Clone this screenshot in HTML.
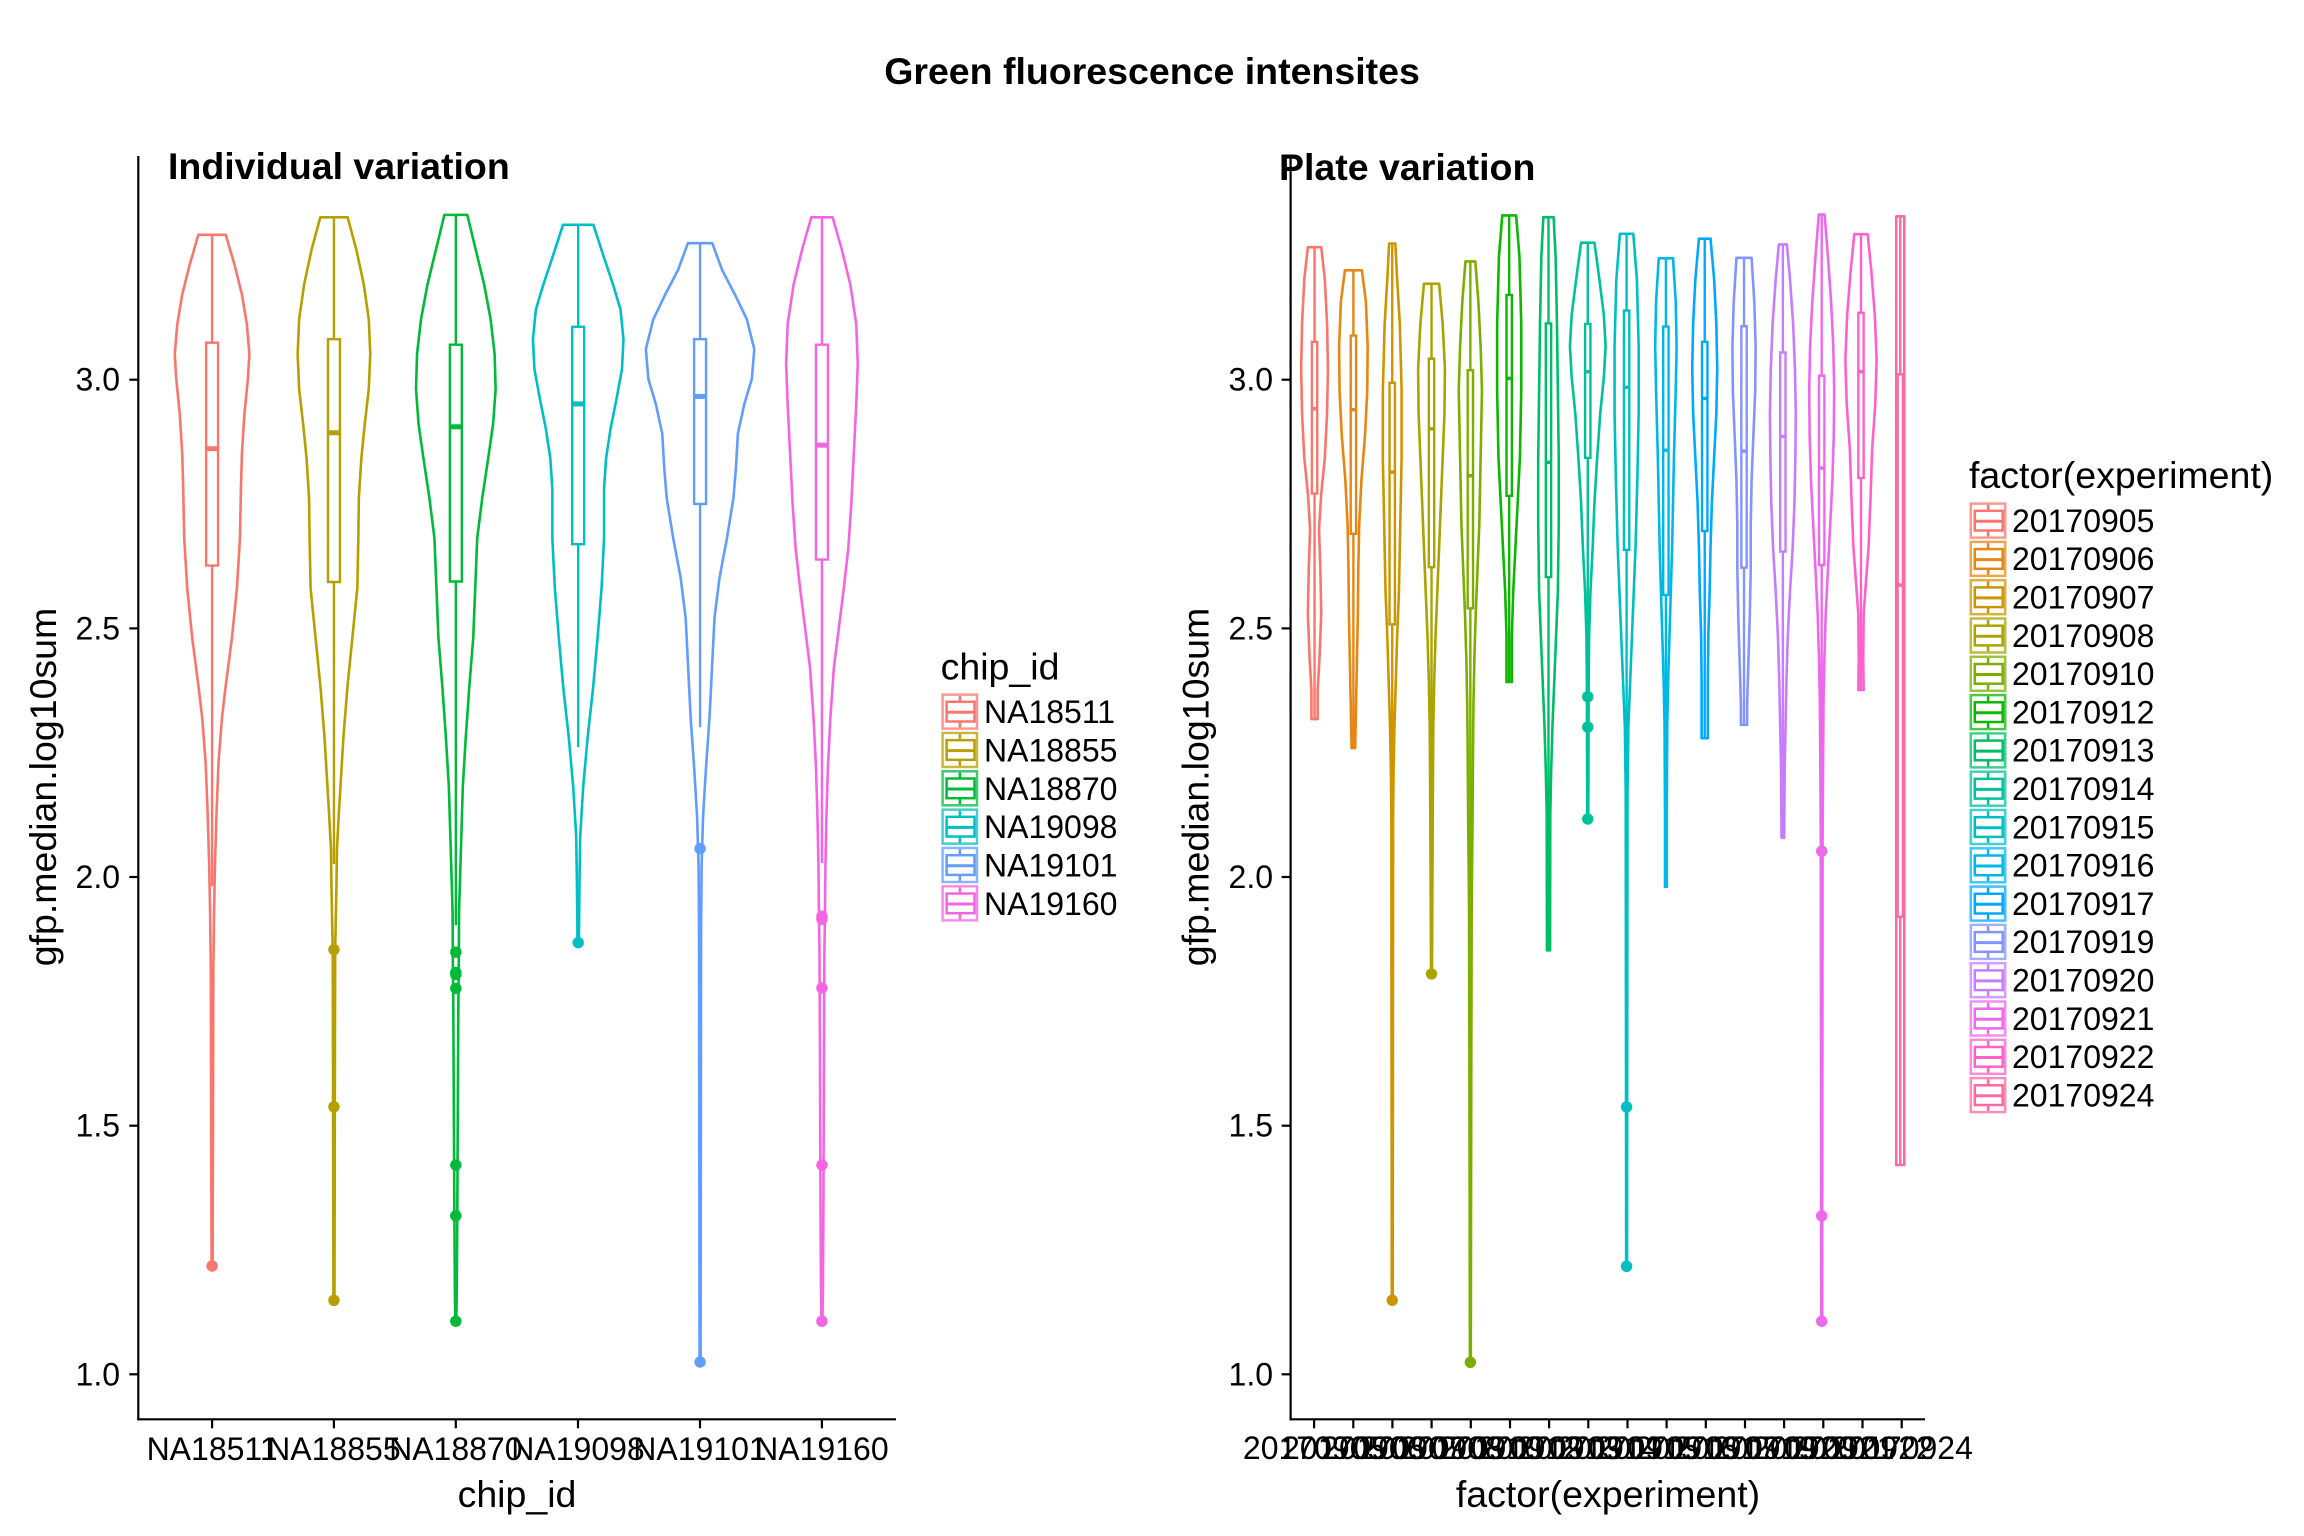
<!DOCTYPE html>
<html><head><meta charset="utf-8"><style>
html,body{margin:0;padding:0;background:#fff;}
svg{display:block;}
text{font-family:"Liberation Sans",Arial,Helvetica,sans-serif;fill:#000;}
.t{font-size:32px;}
.h{font-size:37.5px;}
.b{font-size:37.5px;font-weight:bold;}
</style></head><body>
<svg width="2304" height="1536" viewBox="0 0 2304 1536" xmlns="http://www.w3.org/2000/svg" xmlns:xlink="http://www.w3.org/1999/xlink">
<rect width="2304" height="1536" fill="#fff"/>
<defs>
<g id="key" fill="none" stroke="currentColor" stroke-width="2.5">
<rect x="1.3" y="1.3" width="34.4" height="34" fill="#fff" stroke-opacity="0.75"/>
<rect x="5.3" y="8.5" width="27.9" height="19.7" fill="#fff"/>
<line x1="5.3" y1="19" x2="33.2" y2="19" stroke-width="3"/>
<line x1="18.6" y1="2.5" x2="18.6" y2="8.5"/>
<line x1="18.6" y1="28.2" x2="18.6" y2="34.2"/>
</g>
</defs>

<text class="b" x="1152" y="84" text-anchor="middle">Green fluorescence intensites</text>

<!-- LEFT PANEL -->
<text class="b" x="168" y="179">Individual variation</text>
<g stroke="#000" stroke-width="2.2" fill="none">
<line x1="138.3" y1="156" x2="138.3" y2="1420.4"/>
<line x1="137.2" y1="1419.3" x2="896" y2="1419.3"/>
<line x1="129.3" y1="379.7" x2="138.3" y2="379.7"/>
<line x1="129.3" y1="628.4" x2="138.3" y2="628.4"/>
<line x1="129.3" y1="877" x2="138.3" y2="877"/>
<line x1="129.3" y1="1125.7" x2="138.3" y2="1125.7"/>
<line x1="129.3" y1="1374.3" x2="138.3" y2="1374.3"/>
<line x1="212.1" y1="1419.3" x2="212.1" y2="1428.3"/>
<line x1="333.9" y1="1419.3" x2="333.9" y2="1428.3"/>
<line x1="455.8" y1="1419.3" x2="455.8" y2="1428.3"/>
<line x1="578.0" y1="1419.3" x2="578.0" y2="1428.3"/>
<line x1="700.0" y1="1419.3" x2="700.0" y2="1428.3"/>
<line x1="821.9" y1="1419.3" x2="821.9" y2="1428.3"/>
</g>
<g text-anchor="end">
<text class="t" x="120" y="390.7">3.0</text>
<text class="t" x="120" y="639.4">2.5</text>
<text class="t" x="120" y="888">2.0</text>
<text class="t" x="120" y="1136.7">1.5</text>
<text class="t" x="120" y="1385.3">1.0</text>
</g>
<g text-anchor="middle">
<text class="t" x="212.1" y="1460">NA18511</text>
<text class="t" x="333.9" y="1460">NA18855</text>
<text class="t" x="455.8" y="1460">NA18870</text>
<text class="t" x="578.0" y="1460">NA19098</text>
<text class="t" x="700.0" y="1460">NA19101</text>
<text class="t" x="821.9" y="1460">NA19160</text>
</g>
<text class="h" x="517" y="1507" text-anchor="middle">chip_id</text>
<text class="h" transform="translate(56,787) rotate(-90)" text-anchor="middle">gfp.median.log10sum</text>

<g transform="translate(130,190) scale(0.49745)">
<g transform="translate(165,0)" stroke="#F8766D">
<path id="L1" fill="none" stroke-width="2.6" vector-effect="non-scaling-stroke" stroke-linejoin="round" d="M0,90 L27.5,90 L45,150 L60,210 L70,270 L75,330 L72,380 L65,450 L60,530 L58,600 L56,700 L50,800 L40,900 L27,1000 L20,1060 L13,1150 L9,1250 L6,1350 L4,1450 L2.5,1568 L2,1800 L1.5,2000 L1,2163 L0,2163"/>
<use href="#L1" xlink:href="#L1" transform="scale(-1,1)"/>
</g>
<g transform="translate(410,0)" stroke="#B79F00">
<path id="L2" fill="none" stroke-width="2.6" vector-effect="non-scaling-stroke" stroke-linejoin="round" d="M0,55 L27.5,55 L45,120 L60,190 L70,260 L73,330 L70,400 L62,470 L55,540 L50,620 L49,700 L47,800 L37,900 L27,1000 L19,1100 L13,1200 L10,1250 L6,1325 L5,1400 L2.5,1525 L2,1700 L1.5,2000 L1,2232 L0,2232"/>
<use href="#L2" xlink:href="#L2" transform="scale(-1,1)"/>
</g>
<g transform="translate(655,0)" stroke="#00BA38">
<path id="L3" fill="none" stroke-width="2.6" vector-effect="non-scaling-stroke" stroke-linejoin="round" d="M0,50 L23,50 L40,120 L57,190 L70,260 L78,330 L80,400 L75,470 L65,540 L53,620 L43,700 L39,800 L35,900 L27,1000 L20,1100 L14,1200 L11,1300 L8,1400 L6.5,1450 L6,1550 L5,1650 L4,1850 L3,2050 L2,2200 L1,2274 L0,2274"/>
<use href="#L3" xlink:href="#L3" transform="scale(-1,1)"/>
</g>
<g transform="translate(901,0)" stroke="#00BFC4">
<path id="L4" fill="none" stroke-width="2.6" vector-effect="non-scaling-stroke" stroke-linejoin="round" d="M0,70 L30.5,70 L50,130 L70,190 L85,240 L91,300 L88,360 L77,420 L65,480 L56,540 L52,600 L52,700 L47,800 L39,900 L30,1000 L19,1100 L10,1200 L4,1300 L2.5,1400 L1.5,1500 L0,1513"/>
<use href="#L4" xlink:href="#L4" transform="scale(-1,1)"/>
</g>
<g transform="translate(1146,0)" stroke="#619CFF">
<path id="L5" fill="none" stroke-width="2.6" vector-effect="non-scaling-stroke" stroke-linejoin="round" d="M0,107 L24.5,107 L44,160 L70,210 L94,260 L109,320 L104,380 L89,430 L76,490 L72,560 L67,620 L54,700 L39,780 L29,860 L24,960 L19,1060 L12,1160 L6,1260 L3,1360 L2,1500 L1.5,2000 L1,2356 L0,2356"/>
<use href="#L5" xlink:href="#L5" transform="scale(-1,1)"/>
</g>
<g transform="translate(1391,0)" stroke="#F564E3">
<path id="L6" fill="none" stroke-width="2.6" vector-effect="non-scaling-stroke" stroke-linejoin="round" d="M0,55 L21.5,55 L40,120 L57,190 L69,270 L72,350 L69,430 L64,530 L59,630 L53,720 L44,800 L34,880 L24,960 L17,1060 L12,1160 L9,1260 L7,1360 L6,1460 L5,1525 L4,1725 L3,2025 L2,2200 L1,2274 L0,2274"/>
<use href="#L6" xlink:href="#L6" transform="scale(-1,1)"/>
</g>

<g stroke-width="2.4" fill="#fff">
<g transform="translate(165,0)" stroke="#F8766D">
<line x1="0" y1="90" x2="0" y2="307" vector-effect="non-scaling-stroke"/>
<line x1="0" y1="755" x2="0" y2="1400" vector-effect="non-scaling-stroke"/>
<rect x="-12" y="307" width="24" height="448" vector-effect="non-scaling-stroke"/>
<line x1="-12" y1="520" x2="12" y2="520" stroke-width="5" vector-effect="non-scaling-stroke"/>
<circle cx="0" cy="2163" r="11.5" fill="#F8766D" stroke="none"/>
</g>
<g transform="translate(410,0)" stroke="#B79F00">
<line x1="0" y1="55" x2="0" y2="300" vector-effect="non-scaling-stroke"/>
<line x1="0" y1="788" x2="0" y2="1355" vector-effect="non-scaling-stroke"/>
<rect x="-12" y="300" width="24" height="488" vector-effect="non-scaling-stroke"/>
<line x1="-12" y1="488" x2="12" y2="488" stroke-width="5" vector-effect="non-scaling-stroke"/>
<circle cx="0" cy="1527" r="11.5" fill="#B79F00" stroke="none"/>
<circle cx="0" cy="1843" r="11.5" fill="#B79F00" stroke="none"/>
<circle cx="0" cy="2232" r="11.5" fill="#B79F00" stroke="none"/>
</g>
<g transform="translate(655,0)" stroke="#00BA38">
<line x1="0" y1="50" x2="0" y2="311" vector-effect="non-scaling-stroke"/>
<line x1="0" y1="787" x2="0" y2="1478" vector-effect="non-scaling-stroke"/>
<rect x="-12" y="311" width="24" height="476" vector-effect="non-scaling-stroke"/>
<line x1="-12" y1="476" x2="12" y2="476" stroke-width="5" vector-effect="non-scaling-stroke"/>
<circle cx="0" cy="1532" r="11.5" fill="#00BA38" stroke="none"/>
<circle cx="0" cy="1573" r="11.5" fill="#00BA38" stroke="none"/>
<circle cx="0" cy="1577" r="11.5" fill="#00BA38" stroke="none"/>
<circle cx="0" cy="1605" r="11.5" fill="#00BA38" stroke="none"/>
<circle cx="0" cy="1960" r="11.5" fill="#00BA38" stroke="none"/>
<circle cx="0" cy="2062" r="11.5" fill="#00BA38" stroke="none"/>
<circle cx="0" cy="2274" r="11.5" fill="#00BA38" stroke="none"/>
</g>
<g transform="translate(901,0)" stroke="#00BFC4">
<line x1="0" y1="70" x2="0" y2="275" vector-effect="non-scaling-stroke"/>
<line x1="0" y1="712" x2="0" y2="1120" vector-effect="non-scaling-stroke"/>
<rect x="-12" y="275" width="24" height="437" vector-effect="non-scaling-stroke"/>
<line x1="-12" y1="430" x2="12" y2="430" stroke-width="5" vector-effect="non-scaling-stroke"/>
<circle cx="0" cy="1513" r="11.5" fill="#00BFC4" stroke="none"/>
</g>
<g transform="translate(1146,0)" stroke="#619CFF">
<line x1="0" y1="107" x2="0" y2="300" vector-effect="non-scaling-stroke"/>
<line x1="0" y1="631" x2="0" y2="1080" vector-effect="non-scaling-stroke"/>
<rect x="-12" y="300" width="24" height="331" vector-effect="non-scaling-stroke"/>
<line x1="-12" y1="415" x2="12" y2="415" stroke-width="5" vector-effect="non-scaling-stroke"/>
<circle cx="0" cy="1324" r="11.5" fill="#619CFF" stroke="none"/>
<circle cx="0" cy="2356" r="11.5" fill="#619CFF" stroke="none"/>
</g>
<g transform="translate(1391,0)" stroke="#F564E3">
<line x1="0" y1="55" x2="0" y2="311" vector-effect="non-scaling-stroke"/>
<line x1="0" y1="743" x2="0" y2="1353" vector-effect="non-scaling-stroke"/>
<rect x="-12" y="311" width="24" height="432" vector-effect="non-scaling-stroke"/>
<line x1="-12" y1="513" x2="12" y2="513" stroke-width="5" vector-effect="non-scaling-stroke"/>
<circle cx="0" cy="1460" r="11.5" fill="#F564E3" stroke="none"/>
<circle cx="0" cy="1466" r="11.5" fill="#F564E3" stroke="none"/>
<circle cx="0" cy="1604" r="11.5" fill="#F564E3" stroke="none"/>
<circle cx="0" cy="1960" r="11.5" fill="#F564E3" stroke="none"/>
<circle cx="0" cy="2274" r="11.5" fill="#F564E3" stroke="none"/>
</g>
</g>
</g>

<!-- left legend -->
<text class="h" x="940.6" y="679.3">chip_id</text>
<use href="#key" xlink:href="#key" x="941.3" y="693.3" style="color:#F8766D"/>
<use href="#key" xlink:href="#key" x="941.3" y="731.65" style="color:#B79F00"/>
<use href="#key" xlink:href="#key" x="941.3" y="770" style="color:#00BA38"/>
<use href="#key" xlink:href="#key" x="941.3" y="808.35" style="color:#00BFC4"/>
<use href="#key" xlink:href="#key" x="941.3" y="846.7" style="color:#619CFF"/>
<use href="#key" xlink:href="#key" x="941.3" y="885.05" style="color:#F564E3"/>
<text class="t" x="984" y="723.1">NA18511</text>
<text class="t" x="984" y="761.5">NA18855</text>
<text class="t" x="984" y="799.8">NA18870</text>
<text class="t" x="984" y="838.2">NA19098</text>
<text class="t" x="984" y="876.5">NA19101</text>
<text class="t" x="984" y="914.9">NA19160</text>

<!-- RIGHT PANEL -->
<text class="b" x="1279" y="180">Plate variation</text>
<g stroke="#000" stroke-width="2.2" fill="none">
<line x1="1290.6" y1="156" x2="1290.6" y2="1420.4"/>
<line x1="1289.5" y1="1419.3" x2="1925" y2="1419.3"/>
<line x1="1281.6" y1="379.7" x2="1290.6" y2="379.7"/>
<line x1="1281.6" y1="628.4" x2="1290.6" y2="628.4"/>
<line x1="1281.6" y1="877" x2="1290.6" y2="877"/>
<line x1="1281.6" y1="1125.7" x2="1290.6" y2="1125.7"/>
<line x1="1281.6" y1="1374.3" x2="1290.6" y2="1374.3"/>
<line x1="1314.1" y1="1419.3" x2="1314.1" y2="1428.3"/>
<line x1="1353.3" y1="1419.3" x2="1353.3" y2="1428.3"/>
<line x1="1392.4" y1="1419.3" x2="1392.4" y2="1428.3"/>
<line x1="1431.6" y1="1419.3" x2="1431.6" y2="1428.3"/>
<line x1="1470.8" y1="1419.3" x2="1470.8" y2="1428.3"/>
<line x1="1510.0" y1="1419.3" x2="1510.0" y2="1428.3"/>
<line x1="1549.1" y1="1419.3" x2="1549.1" y2="1428.3"/>
<line x1="1588.3" y1="1419.3" x2="1588.3" y2="1428.3"/>
<line x1="1627.5" y1="1419.3" x2="1627.5" y2="1428.3"/>
<line x1="1666.6" y1="1419.3" x2="1666.6" y2="1428.3"/>
<line x1="1705.8" y1="1419.3" x2="1705.8" y2="1428.3"/>
<line x1="1745.0" y1="1419.3" x2="1745.0" y2="1428.3"/>
<line x1="1784.1" y1="1419.3" x2="1784.1" y2="1428.3"/>
<line x1="1823.3" y1="1419.3" x2="1823.3" y2="1428.3"/>
<line x1="1862.5" y1="1419.3" x2="1862.5" y2="1428.3"/>
<line x1="1901.7" y1="1419.3" x2="1901.7" y2="1428.3"/>
</g>
<g text-anchor="end">
<text class="t" x="1273" y="390.7">3.0</text>
<text class="t" x="1273" y="639.4">2.5</text>
<text class="t" x="1273" y="888">2.0</text>
<text class="t" x="1273" y="1136.7">1.5</text>
<text class="t" x="1273" y="1385.3">1.0</text>
</g>
<g text-anchor="middle">
<text class="t" x="1314.1" y="1459">20170905</text>
<text class="t" x="1353.3" y="1459">20170906</text>
<text class="t" x="1392.4" y="1459">20170907</text>
<text class="t" x="1431.6" y="1459">20170908</text>
<text class="t" x="1470.8" y="1459">20170910</text>
<text class="t" x="1510.0" y="1459">20170912</text>
<text class="t" x="1549.1" y="1459">20170913</text>
<text class="t" x="1588.3" y="1459">20170914</text>
<text class="t" x="1627.5" y="1459">20170915</text>
<text class="t" x="1666.6" y="1459">20170916</text>
<text class="t" x="1705.8" y="1459">20170917</text>
<text class="t" x="1745.0" y="1459">20170919</text>
<text class="t" x="1784.1" y="1459">20170920</text>
<text class="t" x="1823.3" y="1459">20170921</text>
<text class="t" x="1862.5" y="1459">20170922</text>
<text class="t" x="1901.7" y="1459">20170924</text>
</g>
<text class="h" x="1608" y="1507" text-anchor="middle">factor(experiment)</text>
<text class="h" transform="translate(1208.5,787) rotate(-90)" text-anchor="middle">gfp.median.log10sum</text>

<g transform="translate(1290,190) scale(0.44643)">
<g transform="translate(55,0)" stroke="#F8766D">
<path id="R1" fill="none" stroke-width="2.6" vector-effect="non-scaling-stroke" stroke-linejoin="round" d="M0,128 L15,128 L23,200 L28,300 L30,400 L28,500 L23,600 L15,680 L10,760 L13,850 L15,950 L11,1050 L7,1120 L7,1185 L0,1185"/>
<use href="#R1" xlink:href="#R1" transform="scale(-1,1)"/>
</g>
<g transform="translate(142,0)" stroke="#E68613">
<path id="R2" fill="none" stroke-width="2.6" vector-effect="non-scaling-stroke" stroke-linejoin="round" d="M0,180 L19,180 L28,250 L32,350 L31,450 L26,550 L18,650 L13,750 L11,850 L10,950 L8,1050 L6,1150 L4,1250 L0,1250"/>
<use href="#R2" xlink:href="#R2" transform="scale(-1,1)"/>
</g>
<g transform="translate(229,0)" stroke="#CD9600">
<path id="R3" fill="none" stroke-width="2.6" vector-effect="non-scaling-stroke" stroke-linejoin="round" d="M0,120 L7,120 L11,200 L17,300 L21,450 L21,600 L19,700 L17,800 L15,900 L11,1000 L8,1100 L5,1200 L3,1300 L2,1400 L1.5,2000 L1,2487 L0,2487"/>
<use href="#R3" xlink:href="#R3" transform="scale(-1,1)"/>
</g>
<g transform="translate(317,0)" stroke="#ABA300">
<path id="R4" fill="none" stroke-width="2.6" vector-effect="non-scaling-stroke" stroke-linejoin="round" d="M0,210 L17,210 L25,300 L30,400 L29,500 L25,600 L21,700 L17,800 L13,900 L9,1000 L6,1100 L4,1200 L3,1350 L2,1550 L1,1756 L0,1756"/>
<use href="#R4" xlink:href="#R4" transform="scale(-1,1)"/>
</g>
<g transform="translate(404,0)" stroke="#7CAE00">
<path id="R5" fill="none" stroke-width="2.6" vector-effect="non-scaling-stroke" stroke-linejoin="round" d="M0,160 L11,160 L18,250 L23,350 L26,450 L24,550 L22,650 L20,750 L16,850 L12,950 L9,1050 L7,1150 L6,1250 L5,1400 L3,1600 L2,2000 L1,2626 L0,2626"/>
<use href="#R5" xlink:href="#R5" transform="scale(-1,1)"/>
</g>
<g transform="translate(491,0)" stroke="#0CB702">
<path id="R6" fill="none" stroke-width="2.6" vector-effect="non-scaling-stroke" stroke-linejoin="round" d="M0,57 L15.5,57 L23,150 L27,300 L27,450 L24,600 L19,700 L14,800 L9,900 L6,1000 L6,1102 L0,1102"/>
<use href="#R6" xlink:href="#R6" transform="scale(-1,1)"/>
</g>
<g transform="translate(579,0)" stroke="#00BE67">
<path id="R7" fill="none" stroke-width="2.6" vector-effect="non-scaling-stroke" stroke-linejoin="round" d="M0,61 L11.5,61 L16,150 L19,300 L21,450 L23,600 L23,750 L21,900 L17,1000 L13,1100 L9,1200 L6,1300 L4,1400 L3.5,1703 L0,1703"/>
<use href="#R7" xlink:href="#R7" transform="scale(-1,1)"/>
</g>
<g transform="translate(667,0)" stroke="#00C19A">
<path id="R8" fill="none" stroke-width="2.6" vector-effect="non-scaling-stroke" stroke-linejoin="round" d="M0,118 L15,118 L26,200 L36,280 L40,350 L36,420 L28,500 L21,600 L15,700 L11,800 L6,900 L3,1000 L2,1100 L1.5,1300 L1,1409 L0,1409"/>
<use href="#R8" xlink:href="#R8" transform="scale(-1,1)"/>
</g>
<g transform="translate(754,0)" stroke="#00BFC4">
<path id="R9" fill="none" stroke-width="2.6" vector-effect="non-scaling-stroke" stroke-linejoin="round" d="M0,98 L15,98 L23,200 L27,350 L27,500 L24,650 L20,800 L16,900 L12,1000 L8,1100 L4,1200 L2,1350 L1.5,1800 L1,2411 L0,2411"/>
<use href="#R9" xlink:href="#R9" transform="scale(-1,1)"/>
</g>
<g transform="translate(842,0)" stroke="#00B8E7">
<path id="R10" fill="none" stroke-width="2.6" vector-effect="non-scaling-stroke" stroke-linejoin="round" d="M0,153 L16,153 L22,250 L24,350 L22,450 L18,600 L16,700 L14,800 L11,900 L8,1000 L5,1100 L3,1200 L2,1400 L2,1561 L0,1561"/>
<use href="#R10" xlink:href="#R10" transform="scale(-1,1)"/>
</g>
<g transform="translate(929,0)" stroke="#00A9FF">
<path id="R11" fill="none" stroke-width="2.6" vector-effect="non-scaling-stroke" stroke-linejoin="round" d="M0,109 L13,109 L21,200 L26,300 L28,400 L26,500 L21,600 L16,700 L13,800 L11,900 L8,1000 L7,1100 L7,1228 L0,1228"/>
<use href="#R11" xlink:href="#R11" transform="scale(-1,1)"/>
</g>
<g transform="translate(1017,0)" stroke="#8494FF">
<path id="R12" fill="none" stroke-width="2.6" vector-effect="non-scaling-stroke" stroke-linejoin="round" d="M0,152 L17,152 L23,250 L26,350 L25,450 L21,550 L17,650 L15,750 L15,850 L13,950 L10,1050 L7,1150 L7,1198 L0,1198"/>
<use href="#R12" xlink:href="#R12" transform="scale(-1,1)"/>
</g>
<g transform="translate(1104,0)" stroke="#C77CFF">
<path id="R13" fill="none" stroke-width="2.6" vector-effect="non-scaling-stroke" stroke-linejoin="round" d="M0,122 L9,122 L16,200 L23,300 L27,400 L29,500 L28,600 L26,700 L22,800 L16,900 L11,1000 L8,1100 L6,1200 L4,1300 L3,1451 L0,1451"/>
<use href="#R13" xlink:href="#R13" transform="scale(-1,1)"/>
</g>
<g transform="translate(1191,0)" stroke="#ED68ED">
<path id="R14" fill="none" stroke-width="2.6" vector-effect="non-scaling-stroke" stroke-linejoin="round" d="M0,55 L6.5,55 L14,150 L21,250 L26,350 L28,450 L27,550 L24,650 L19,750 L14,850 L9,950 L6,1050 L4,1150 L3,1300 L2,1450 L1.5,2000 L1,2534 L0,2534"/>
<use href="#R14" xlink:href="#R14" transform="scale(-1,1)"/>
</g>
<g transform="translate(1279,0)" stroke="#FF61CC">
<path id="R15" fill="none" stroke-width="2.6" vector-effect="non-scaling-stroke" stroke-linejoin="round" d="M0,99 L15,99 L23,180 L31,280 L35,380 L32,480 L25,580 L21,700 L17,800 L11,880 L6,950 L5,1050 L6,1120 L0,1120"/>
<use href="#R15" xlink:href="#R15" transform="scale(-1,1)"/>
</g>
<g transform="translate(1367,0)" stroke="#FF68A1">
<path id="R16" fill="none" stroke-width="2.6" vector-effect="non-scaling-stroke" stroke-linejoin="round" d="M0,59 L9,59 L9,2184 L0,2184"/>
<use href="#R16" xlink:href="#R16" transform="scale(-1,1)"/>
</g>

<g stroke-width="2.4" fill="#fff">
<g transform="translate(55,0)" stroke="#F8766D"><line x1="0" y1="128" x2="0" y2="340" vector-effect="non-scaling-stroke"/><line x1="0" y1="680" x2="0" y2="1185" vector-effect="non-scaling-stroke"/><rect x="-6" y="340" width="12" height="340" vector-effect="non-scaling-stroke"/><line x1="-6" y1="490" x2="6" y2="490" stroke-width="3.5" vector-effect="non-scaling-stroke"/></g>
<g transform="translate(142,0)" stroke="#E68613"><line x1="0" y1="180" x2="0" y2="326" vector-effect="non-scaling-stroke"/><line x1="0" y1="770" x2="0" y2="1250" vector-effect="non-scaling-stroke"/><rect x="-6" y="326" width="12" height="444" vector-effect="non-scaling-stroke"/><line x1="-6" y1="492" x2="6" y2="492" stroke-width="3.5" vector-effect="non-scaling-stroke"/></g>
<g transform="translate(229,0)" stroke="#CD9600"><line x1="0" y1="120" x2="0" y2="432" vector-effect="non-scaling-stroke"/><line x1="0" y1="973" x2="0" y2="1650" vector-effect="non-scaling-stroke"/><rect x="-6" y="432" width="12" height="541" vector-effect="non-scaling-stroke"/><line x1="-6" y1="632" x2="6" y2="632" stroke-width="3.5" vector-effect="non-scaling-stroke"/><circle cx="0" cy="2487" r="12.8" fill="#CD9600" stroke="none"/></g>
<g transform="translate(317,0)" stroke="#ABA300"><line x1="0" y1="210" x2="0" y2="378" vector-effect="non-scaling-stroke"/><line x1="0" y1="845" x2="0" y2="1500" vector-effect="non-scaling-stroke"/><rect x="-6" y="378" width="12" height="467" vector-effect="non-scaling-stroke"/><line x1="-6" y1="535" x2="6" y2="535" stroke-width="3.5" vector-effect="non-scaling-stroke"/><circle cx="0" cy="1756" r="12.8" fill="#ABA300" stroke="none"/></g>
<g transform="translate(404,0)" stroke="#7CAE00"><line x1="0" y1="160" x2="0" y2="404" vector-effect="non-scaling-stroke"/><line x1="0" y1="937" x2="0" y2="1650" vector-effect="non-scaling-stroke"/><rect x="-6" y="404" width="12" height="533" vector-effect="non-scaling-stroke"/><line x1="-6" y1="640" x2="6" y2="640" stroke-width="3.5" vector-effect="non-scaling-stroke"/><circle cx="0" cy="2626" r="12.8" fill="#7CAE00" stroke="none"/></g>
<g transform="translate(491,0)" stroke="#0CB702"><line x1="0" y1="57" x2="0" y2="235" vector-effect="non-scaling-stroke"/><line x1="0" y1="685" x2="0" y2="1102" vector-effect="non-scaling-stroke"/><rect x="-6" y="235" width="12" height="450" vector-effect="non-scaling-stroke"/><line x1="-6" y1="422" x2="6" y2="422" stroke-width="3.5" vector-effect="non-scaling-stroke"/></g>
<g transform="translate(579,0)" stroke="#00BE67"><line x1="0" y1="61" x2="0" y2="299" vector-effect="non-scaling-stroke"/><line x1="0" y1="867" x2="0" y2="1703" vector-effect="non-scaling-stroke"/><rect x="-6" y="299" width="12" height="568" vector-effect="non-scaling-stroke"/><line x1="-6" y1="610" x2="6" y2="610" stroke-width="3.5" vector-effect="non-scaling-stroke"/></g>
<g transform="translate(667,0)" stroke="#00C19A"><line x1="0" y1="118" x2="0" y2="300" vector-effect="non-scaling-stroke"/><line x1="0" y1="600" x2="0" y2="1409" vector-effect="non-scaling-stroke"/><rect x="-6" y="300" width="12" height="300" vector-effect="non-scaling-stroke"/><line x1="-6" y1="407" x2="6" y2="407" stroke-width="3.5" vector-effect="non-scaling-stroke"/><circle cx="0" cy="1135" r="12.8" fill="#00C19A" stroke="none"/><circle cx="0" cy="1203" r="12.8" fill="#00C19A" stroke="none"/><circle cx="0" cy="1409" r="12.8" fill="#00C19A" stroke="none"/></g>
<g transform="translate(754,0)" stroke="#00BFC4"><line x1="0" y1="98" x2="0" y2="270" vector-effect="non-scaling-stroke"/><line x1="0" y1="806" x2="0" y2="2411" vector-effect="non-scaling-stroke"/><rect x="-6" y="270" width="12" height="536" vector-effect="non-scaling-stroke"/><line x1="-6" y1="442" x2="6" y2="442" stroke-width="3.5" vector-effect="non-scaling-stroke"/><circle cx="0" cy="2054" r="12.8" fill="#00BFC4" stroke="none"/><circle cx="0" cy="2411" r="12.8" fill="#00BFC4" stroke="none"/></g>
<g transform="translate(842,0)" stroke="#00B8E7"><line x1="0" y1="153" x2="0" y2="306" vector-effect="non-scaling-stroke"/><line x1="0" y1="907" x2="0" y2="1561" vector-effect="non-scaling-stroke"/><rect x="-6" y="306" width="12" height="601" vector-effect="non-scaling-stroke"/><line x1="-6" y1="583" x2="6" y2="583" stroke-width="3.5" vector-effect="non-scaling-stroke"/></g>
<g transform="translate(929,0)" stroke="#00A9FF"><line x1="0" y1="109" x2="0" y2="340" vector-effect="non-scaling-stroke"/><line x1="0" y1="764" x2="0" y2="1228" vector-effect="non-scaling-stroke"/><rect x="-6" y="340" width="12" height="424" vector-effect="non-scaling-stroke"/><line x1="-6" y1="467" x2="6" y2="467" stroke-width="3.5" vector-effect="non-scaling-stroke"/></g>
<g transform="translate(1017,0)" stroke="#8494FF"><line x1="0" y1="152" x2="0" y2="305" vector-effect="non-scaling-stroke"/><line x1="0" y1="846" x2="0" y2="1198" vector-effect="non-scaling-stroke"/><rect x="-6" y="305" width="12" height="541" vector-effect="non-scaling-stroke"/><line x1="-6" y1="585" x2="6" y2="585" stroke-width="3.5" vector-effect="non-scaling-stroke"/></g>
<g transform="translate(1104,0)" stroke="#C77CFF"><line x1="0" y1="122" x2="0" y2="364" vector-effect="non-scaling-stroke"/><line x1="0" y1="810" x2="0" y2="1451" vector-effect="non-scaling-stroke"/><rect x="-6" y="364" width="12" height="446" vector-effect="non-scaling-stroke"/><line x1="-6" y1="552" x2="6" y2="552" stroke-width="3.5" vector-effect="non-scaling-stroke"/></g>
<g transform="translate(1191,0)" stroke="#ED68ED"><line x1="0" y1="55" x2="0" y2="416" vector-effect="non-scaling-stroke"/><line x1="0" y1="840" x2="0" y2="1375" vector-effect="non-scaling-stroke"/><rect x="-6" y="416" width="12" height="424" vector-effect="non-scaling-stroke"/><line x1="-6" y1="623" x2="6" y2="623" stroke-width="3.5" vector-effect="non-scaling-stroke"/><circle cx="0" cy="1481" r="12.8" fill="#ED68ED" stroke="none"/><circle cx="0" cy="2298" r="12.8" fill="#ED68ED" stroke="none"/><circle cx="0" cy="2534" r="12.8" fill="#ED68ED" stroke="none"/></g>
<g transform="translate(1279,0)" stroke="#FF61CC"><line x1="0" y1="99" x2="0" y2="275" vector-effect="non-scaling-stroke"/><line x1="0" y1="645" x2="0" y2="1120" vector-effect="non-scaling-stroke"/><rect x="-6" y="275" width="12" height="370" vector-effect="non-scaling-stroke"/><line x1="-6" y1="407" x2="6" y2="407" stroke-width="3.5" vector-effect="non-scaling-stroke"/></g>
<g transform="translate(1367,0)" stroke="#FF68A1"><line x1="0" y1="59" x2="0" y2="413" vector-effect="non-scaling-stroke"/><line x1="0" y1="1628" x2="0" y2="2184" vector-effect="non-scaling-stroke"/><rect x="-6" y="413" width="12" height="1215" vector-effect="non-scaling-stroke"/><line x1="-6" y1="885" x2="6" y2="885" stroke-width="3.5" vector-effect="non-scaling-stroke"/></g>
</g>
</g>

<!-- right legend -->
<text class="h" x="1969" y="488">factor(experiment)</text>
<use href="#key" xlink:href="#key" x="1969.5" y="502.3" style="color:#F8766D"/>
<use href="#key" xlink:href="#key" x="1969.5" y="540.6" style="color:#E68613"/>
<use href="#key" xlink:href="#key" x="1969.5" y="578.9" style="color:#CD9600"/>
<use href="#key" xlink:href="#key" x="1969.5" y="617.2" style="color:#ABA300"/>
<use href="#key" xlink:href="#key" x="1969.5" y="655.5" style="color:#7CAE00"/>
<use href="#key" xlink:href="#key" x="1969.5" y="693.8" style="color:#0CB702"/>
<use href="#key" xlink:href="#key" x="1969.5" y="732.1" style="color:#00BE67"/>
<use href="#key" xlink:href="#key" x="1969.5" y="770.4" style="color:#00C19A"/>
<use href="#key" xlink:href="#key" x="1969.5" y="808.7" style="color:#00BFC4"/>
<use href="#key" xlink:href="#key" x="1969.5" y="847.0" style="color:#00B8E7"/>
<use href="#key" xlink:href="#key" x="1969.5" y="885.3" style="color:#00A9FF"/>
<use href="#key" xlink:href="#key" x="1969.5" y="923.6" style="color:#8494FF"/>
<use href="#key" xlink:href="#key" x="1969.5" y="961.9" style="color:#C77CFF"/>
<use href="#key" xlink:href="#key" x="1969.5" y="1000.2" style="color:#ED68ED"/>
<use href="#key" xlink:href="#key" x="1969.5" y="1038.5" style="color:#FF61CC"/>
<use href="#key" xlink:href="#key" x="1969.5" y="1076.8" style="color:#FF68A1"/>
<text class="t" x="2012" y="531.9">20170905</text>
<text class="t" x="2012" y="570.2">20170906</text>
<text class="t" x="2012" y="608.5">20170907</text>
<text class="t" x="2012" y="646.8">20170908</text>
<text class="t" x="2012" y="685.1">20170910</text>
<text class="t" x="2012" y="723.4">20170912</text>
<text class="t" x="2012" y="761.7">20170913</text>
<text class="t" x="2012" y="800.0">20170914</text>
<text class="t" x="2012" y="838.3">20170915</text>
<text class="t" x="2012" y="876.6">20170916</text>
<text class="t" x="2012" y="914.9">20170917</text>
<text class="t" x="2012" y="953.2">20170919</text>
<text class="t" x="2012" y="991.5">20170920</text>
<text class="t" x="2012" y="1029.8">20170921</text>
<text class="t" x="2012" y="1068.1">20170922</text>
<text class="t" x="2012" y="1106.4">20170924</text>
</svg>
</body></html>
